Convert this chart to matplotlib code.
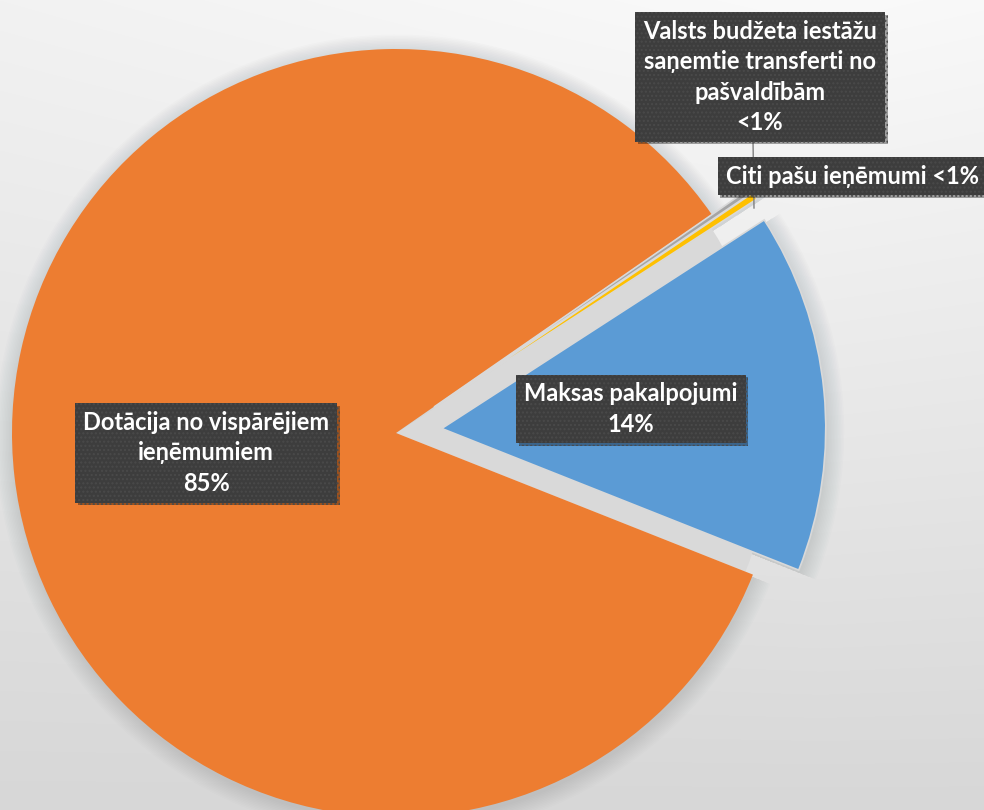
import numpy as np
import matplotlib.pyplot as plt
import matplotlib.patheffects as pe

W, H = 984, 810

labels = ['Maksas pakalpojumi',
          'Dotācija no vispārējiem\nieņēmumiem',
          'Citi pašu ieņēmumi',
          'Valsts budžeta iestāžu\nsaņemtie transferti no\npašvaldībām']
shares = [15.15, 84.35, 0.2, 0.3]
pct_text = ['14%', '85%', '<1%', '<1%']
colors = ['#5B9BD5', '#ED7D31', '#A5A5A5', '#FFC000']
explode = [46, 0, 46, 46]   # pixels

plt.rcParams['font.family'] = ['Lato', 'DejaVu Sans']

fig = plt.figure(figsize=(W / 100, H / 100), dpi=100)
ax = fig.add_axes([0, 0, 1, 1])

# background gradient (light at top, grey at bottom)
yy, xx = np.mgrid[0:H, 0:W]
t = yy / H
lvl = 250 - 35 * t - 8 * np.abs(xx - 820) / 820 * (1 - t)
bg = np.dstack([lvl] * 3) / 255
ax.imshow(bg, extent=(0, W, 0, H), origin='upper', aspect='auto', zorder=0)

cx, cy = 396, H - 433
R = 384
start = 32.9


def draw_pie(radius, cols, expl, alpha=1.0, z=2, center=(cx, cy), ec='none', lw=0):
    wedges, _ = ax.pie(shares, colors=cols, explode=expl, startangle=start,
                       counterclock=False, center=center, radius=radius,
                       frame=True,
                       wedgeprops=dict(linewidth=lw, edgecolor=ec, alpha=alpha))
    for w in wedges:
        w.set_zorder(z)
    return wedges


# soft shadow halo
for k in range(12):
    draw_pie(R + 1 + k * 1.5, ['#303a40'] * 4, explode, alpha=0.011, z=1,
             center=(cx + 1, cy - 3))
# grey fill in the gap left by the exploded slices
gap = draw_pie(R - 8, ['#d9d9d9'] * 4, [0] * 4, z=1.5)
gap[1].set_visible(False)
# the actual pie
wedges = draw_pie(R, colors, explode, z=2, ec='#d9d9d9', lw=1.2)
wedges[1].set_linewidth(0)

ax.set_xlim(0, W)
ax.set_ylim(0, H)
ax.axis('off')

# leader line for the small slice
ax.plot([753, 754], [H - 140, H - 208], color='#7f7f7f', lw=1, zorder=3)

box_pos = [(631, 409), (206, 453), (852, 176), (760, 77)]
for i, (lab, pct) in enumerate(zip(labels, pct_text)):
    if i == 2:
        s = lab + ' ' + pct
    else:
        s = lab + '\n' + pct
    x, y = box_pos[i]
    txt = ax.text(x, H - y, s, ha='center', va='center', color='white',
                  fontsize=17, fontweight='bold', linespacing=1.38, zorder=5,
                  bbox=dict(boxstyle='square,pad=0.33', fc='#3d3d3d',
                            ec='#4a4a4a', lw=0, hatch='....'))
    txt.get_bbox_patch().set_path_effects(
        [pe.SimplePatchShadow(offset=(2, -2), shadow_rgbFace='black', alpha=0.35),
         pe.Normal()])

fig.savefig('out.png', dpi=100)
